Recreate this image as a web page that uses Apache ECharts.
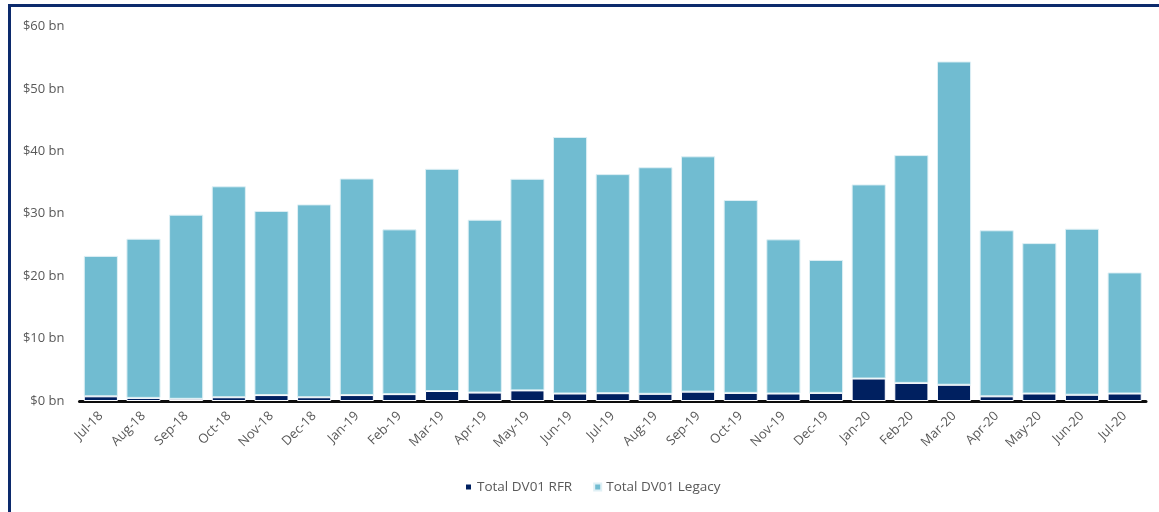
<!DOCTYPE html>
<html>
<head>
<meta charset="utf-8">
<script src="https://cdn.jsdelivr.net/npm/echarts@6/dist/echarts.min.js"></script>
<style>
  html, body { margin: 0; padding: 0; background: #ffffff; overflow: hidden; }
  #frame { position: absolute; left: 8px; top: 4px; width: 1300px; height: 700px; border: 3px solid #0c2a6c; box-sizing: border-box; }
  #chart { position: absolute; left: 0; top: 0; width: 1159px; height: 512px; }
</style>
</head>
<body>
<div id="frame"></div>
<div id="chart"></div>
<script>
const categories = ['Jul-18','Aug-18','Sep-18','Oct-18','Nov-18','Dec-18','Jan-19','Feb-19','Mar-19','Apr-19','May-19','Jun-19','Jul-19','Aug-19','Sep-19','Oct-19','Nov-19','Dec-19','Jan-20','Feb-20','Mar-20','Apr-20','May-20','Jun-20','Jul-20'];
const rfrValues = [0.75, 0.5, 0.35, 0.6, 0.95, 0.6, 0.95, 1.1, 1.6, 1.35, 1.7, 1.2, 1.25, 1.15, 1.5, 1.3, 1.2, 1.3, 3.6, 2.9, 2.6, 0.75, 1.2, 1.0, 1.2];
const legacyValues = [22.5, 25.5, 29.5, 33.8, 29.5, 30.9, 34.7, 26.4, 35.6, 27.7, 33.9, 41.1, 35.1, 36.3, 37.7, 30.9, 24.7, 21.3, 31.1, 36.5, 51.8, 26.6, 24.1, 26.6, 19.4];
const yTicks = { min: 0, max: 60, interval: 10 };

const chart = echarts.init(document.getElementById('chart'), null, { renderer: 'canvas' });
const fontFamily = '"Open Sans", "Liberation Sans", sans-serif';
chart.setOption({
  backgroundColor: 'transparent',
  animation: false,
  grid: { left: 79.5, right: 13, top: 26.5, bottom: 111, containLabel: false },
  legend: {
    left: 464, top: 480, padding: 0,
    itemWidth: 7, itemHeight: 7, itemGap: 21,
    icon: 'rect',
    textStyle: { color: '#595959', fontSize: 13.5, fontFamily: fontFamily },
    data: ['Total DV01 RFR', 'Total DV01 Legacy']
  },
  xAxis: {
    type: 'category',
    data: categories,
    offset: 2,
    axisTick: { show: false },
    axisLine: { show: true, lineStyle: { color: '#0d0d0d', width: 3 } },
    axisLabel: { rotate: 45, margin: 11, color: '#595959', fontSize: 13, fontFamily: fontFamily, interval: 0 }
  },
  yAxis: {
    type: 'value',
    min: yTicks.min, max: yTicks.max, interval: yTicks.interval,
    splitLine: { show: false },
    axisLine: { show: false },
    axisTick: { show: false },
    axisLabel: { margin: 15, padding: [3, 0, 0, 0], color: '#595959', fontSize: 13, fontFamily: fontFamily, formatter: v => '$' + v + ' bn' }
  },
  series: [
    {
      name: 'Total DV01 RFR', type: 'bar', stack: 'total', data: rfrValues,
      barCategoryGap: '20%',
      itemStyle: { color: '#002060', borderColor: '#ffffff', borderWidth: 1 }
    },
    {
      name: 'Total DV01 Legacy', type: 'bar', stack: 'total', data: legacyValues,
      barCategoryGap: '20%',
      itemStyle: { color: '#71bcd1', borderColor: '#dff0f5', borderWidth: 1 }
    }
  ]
});
</script>
</body>
</html>
